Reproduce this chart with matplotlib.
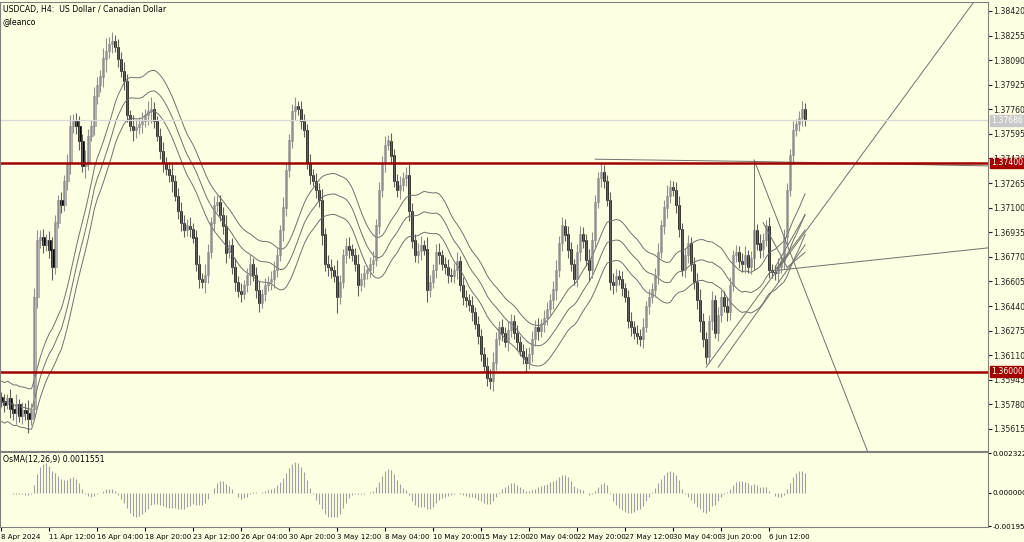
import numpy as np
import pandas as pd
import matplotlib
matplotlib.use("Agg")
import matplotlib.pyplot as plt

# USDCAD H4 closes, in pips above 1.35000
closes = [
    80, 78, 82, 75, 72, 78, 70, 74, 72, 68, 75, 150, 188, 190, 185, 188, 182, 170, 200, 215,
    212, 228, 240, 265, 268, 265, 255, 238, 240, 258, 265, 285, 292, 298, 310, 315, 320, 322, 318, 310,
    302, 295, 272, 265, 262, 264, 266, 268, 272, 275, 276, 268, 258, 248, 240, 236, 232, 228, 218, 208,
    200, 195, 198, 196, 190, 172, 162, 160, 165, 180, 200, 212, 214, 205, 198, 180, 185, 170, 160, 154,
    152, 158, 165, 172, 165, 155, 146, 152, 158, 160, 162, 168, 178, 195, 210, 235, 255, 275, 278, 276,
    268, 262, 240, 232, 228, 222, 215, 192, 172, 170, 168, 164, 150, 160, 178, 184, 182, 178, 172, 158,
    162, 166, 168, 172, 175, 198, 222, 240, 252, 255, 245, 228, 222, 225, 230, 232, 208, 188, 178, 181,
    185, 182, 155, 160, 168, 180, 178, 172, 170, 165, 164, 168, 174, 158, 150, 148, 145, 140, 132, 124,
    112, 104, 96, 94, 106, 122, 130, 126, 120, 128, 134, 126, 120, 114, 110, 106, 112, 122, 130, 127,
    132, 136, 142, 148, 155, 168, 186, 198, 192, 182, 172, 162, 180, 192, 188, 175, 168, 188, 214, 230,
    234, 228, 215, 160, 158, 164, 162, 156, 150, 134, 130, 126, 124, 122, 130, 144, 150, 155, 165, 180,
    198, 210, 218, 224, 222, 212, 196, 168, 178, 186, 172, 160, 148, 134, 122, 110, 134, 148, 126, 138,
    150, 144, 140, 158, 178, 180, 174, 172, 178, 170, 176, 195, 186, 182, 188, 198, 168, 167, 166, 170,
    174, 190, 222, 245, 262, 266, 270, 276, 269,
]
# wick length beyond the body, pips
wicks = [
    6, 8, 5, 10, 7, 12, 6, 9, 8, 15, 6, 10, 12, 8, 9, 7, 10, 14, 8, 6,
    9, 7, 10, 12, 8, 9, 11, 7, 14, 8, 6, 10, 9, 7, 12, 15, 8, 10, 6, 9,
    7, 10, 8, 6, 12, 9, 8, 10, 7, 11, 14, 8, 6, 9, 10, 7, 8, 12, 6, 9,
    10, 8, 7, 9, 6, 8, 10, 7, 12, 9, 6, 10, 8, 7, 9, 12, 6, 8, 10, 7,
    9, 6, 8, 12, 7, 9, 10, 6, 8, 7, 9, 10, 8, 6, 12, 9, 7, 8, 10, 6,
    9, 8, 7, 10, 6, 9, 8, 12, 7, 10, 9, 6, 18, 8, 7, 9, 10, 6, 8, 12,
    7, 9, 6, 8, 10, 7, 9, 8, 10, 6, 9, 7, 8, 10, 6, 9, 12, 8, 7, 9,
    10, 6, 14, 8, 7, 9, 10, 6, 8, 9, 7, 8, 10, 6, 9, 8, 7, 10, 6, 9,
    8, 7, 10, 9, 12, 8, 7, 9, 6, 10, 8, 7, 9, 6, 8, 10, 7, 9, 8, 10,
    6, 9, 8, 7, 10, 12, 8, 9, 7, 10, 8, 6, 9, 10, 8, 7, 12, 9, 8, 7,
    10, 8, 6, 9, 10, 8, 7, 9, 6, 8, 10, 7, 9, 8, 10, 6, 9, 7, 8, 10,
    6, 9, 12, 8, 7, 9, 10, 6, 8, 9, 7, 8, 10, 12, 9, 8, 7, 10, 6, 9,
    8, 7, 10, 9, 6, 8, 7, 9, 10, 6, 8, 9, 7, 10, 8, 6, 9, 7, 8, 10,
    6, 9, 8, 7, 10, 6, 8, 9, 7,
]
date_labels = ["8 Apr 2024", "11 Apr 12:00", "16 Apr 04:00", "18 Apr 20:00", "23 Apr 12:00",
               "26 Apr 04:00", "30 Apr 20:00", "3 May 12:00", "8 May 04:00", "10 May 20:00",
               "15 May 12:00", "20 May 04:00", "22 May 20:00", "27 May 12:00", "30 May 04:00",
               "3 Jun 20:00", "6 Jun 12:00"]
price_ticks = [1.38420, 1.38255, 1.38090, 1.37925, 1.37760, 1.37595, 1.37430, 1.37265, 1.37100,
               1.36935, 1.36770, 1.36605, 1.36440, 1.36275, 1.36110, 1.35945, 1.35780, 1.35615]
levels = [1.37400, 1.36000]
last_price = 1.37686
# hand-drawn objects: (bar, price) -> (bar, price)
trend_lines = [
    (235, 1.36030, 325, 1.38500),
    (251, 1.37420, 292, 1.35300),
    (259, 1.36680, 329, 1.36830),
    (198, 1.37425, 251, 1.37410),
    (251, 1.37410, 329, 1.37380),
    (251, 1.37420, 251, 1.36680),
    (239, 1.36030, 268, 1.36850),
    (258, 1.36700, 268, 1.37050),
    (258, 1.36680, 268, 1.36950),
    (262, 1.36700, 268, 1.36800),
    (254, 1.37000, 262, 1.36700),
]

BG = "#FFFFE3"
RED = "#A00000"
FS = 5.6
c = 1.35 + np.array(closes) / 10000.0
o = np.concatenate([[c[0] + 0.0003], c[:-1]])
w = np.array(wicks) / 10000.0
h = np.maximum(o, c) + w * 0.6
l = np.minimum(o, c) - w * 0.6
x = np.arange(len(c))

fig = plt.figure(figsize=(10.24, 5.42), dpi=100, facecolor=BG)
ax = fig.add_axes([0.0, 1 - 451 / 542, 988 / 1024, 449 / 542], facecolor=BG)
ax2 = fig.add_axes([0.0, 1 - 527 / 542, 988 / 1024, 75 / 542], facecolor=BG)

# envelope moving averages
ma = pd.Series(c).rolling(21, min_periods=1).mean().values
for k in (-0.0010, 0.0, 0.0010):
    ax.plot(x, ma * (1 + k), color="#707070", lw=0.7)

up = c >= o
ax.vlines(x, l, h, color=np.where(up, "#909090", "#606060"), lw=0.8)
ax.bar(x[up], (c - o)[up] + 0.00001, bottom=o[up], width=0.7, color="#B8B8B8", edgecolor="#8C8C8C", lw=0.4)
ax.bar(x[~up], (c - o)[~up] - 0.00001, bottom=o[~up], width=0.7, color="black", edgecolor="black", lw=0.4)

for x0, y0, x1, y1 in trend_lines:
    ax.plot([x0, x1], [y0, y1], color="#707070", lw=0.7)
ax.axhline(last_price, color="#D8D8D8", lw=0.9)
for lv in levels:
    ax.axhline(lv, color=RED, lw=1.8)

ax.set_xlim(-0.5, 329)
ax.set_ylim(1.35467, 1.38480)
ax.yaxis.tick_right()
ax.set_yticks(price_ticks)
ax.set_yticklabels([f"{t:.5f}" for t in price_ticks], fontsize=FS)
ax.tick_params(axis="y", length=3, pad=1, colors="#202020")
ax.set_xticks([])
for lv in levels:
    ax.text(1.003, lv, f"{lv:.5f}", transform=ax.get_yaxis_transform(), fontsize=FS,
            color="white", va="center", ha="left", zorder=5,
            bbox=dict(boxstyle="square,pad=0.12", fc=RED, ec=RED))
ax.text(1.003, last_price, f"{last_price:.5f}", transform=ax.get_yaxis_transform(), fontsize=FS,
        color="white", va="center", ha="left", zorder=5,
        bbox=dict(boxstyle="square,pad=0.12", fc="#C8C8C8", ec="#C8C8C8"))
ax.text(0.003, 0.993, "USDCAD, H4:  US Dollar / Canadian Dollar", transform=ax.transAxes,
        fontsize=FS, va="top")
ax.text(0.003, 0.967, "@leanco", transform=ax.transAxes, fontsize=FS, va="top")

# OsMA(12,26,9)
s = pd.Series(c)
macd = s.ewm(span=12, adjust=False).mean() - s.ewm(span=26, adjust=False).mean()
osma = (macd - macd.rolling(9, min_periods=1).mean()).values
ax2.vlines(x, 0, osma, color="#A0A0A0", lw=0.8)
ax2.set_xlim(-0.5, 329)
ax2.set_ylim(-0.0020, 0.0024)
ax2.yaxis.tick_right()
osma_ticks = [0.0023224, 0.0, -0.0019588]
ax2.set_yticks(osma_ticks)
ax2.set_yticklabels(["0.0023224", "0.0000000", "-0.0019588"], fontsize=5.2)
ax2.tick_params(axis="y", length=2, pad=1)
ax2.set_xticks(np.arange(len(date_labels)) * 16)
ax2.set_xticklabels(date_labels, fontsize=5.1, ha="left")
ax2.tick_params(axis="x", length=3, pad=2)
ax2.text(0.003, 0.96, f"OsMA(12,26,9) {osma[-1]:.7f}", transform=ax2.transAxes, fontsize=FS, va="top")

for a in (ax, ax2):
    for sp in a.spines.values():
        sp.set_color("#808080")
        sp.set_linewidth(0.8)

fig.savefig("out.png", dpi=100, facecolor=BG)
